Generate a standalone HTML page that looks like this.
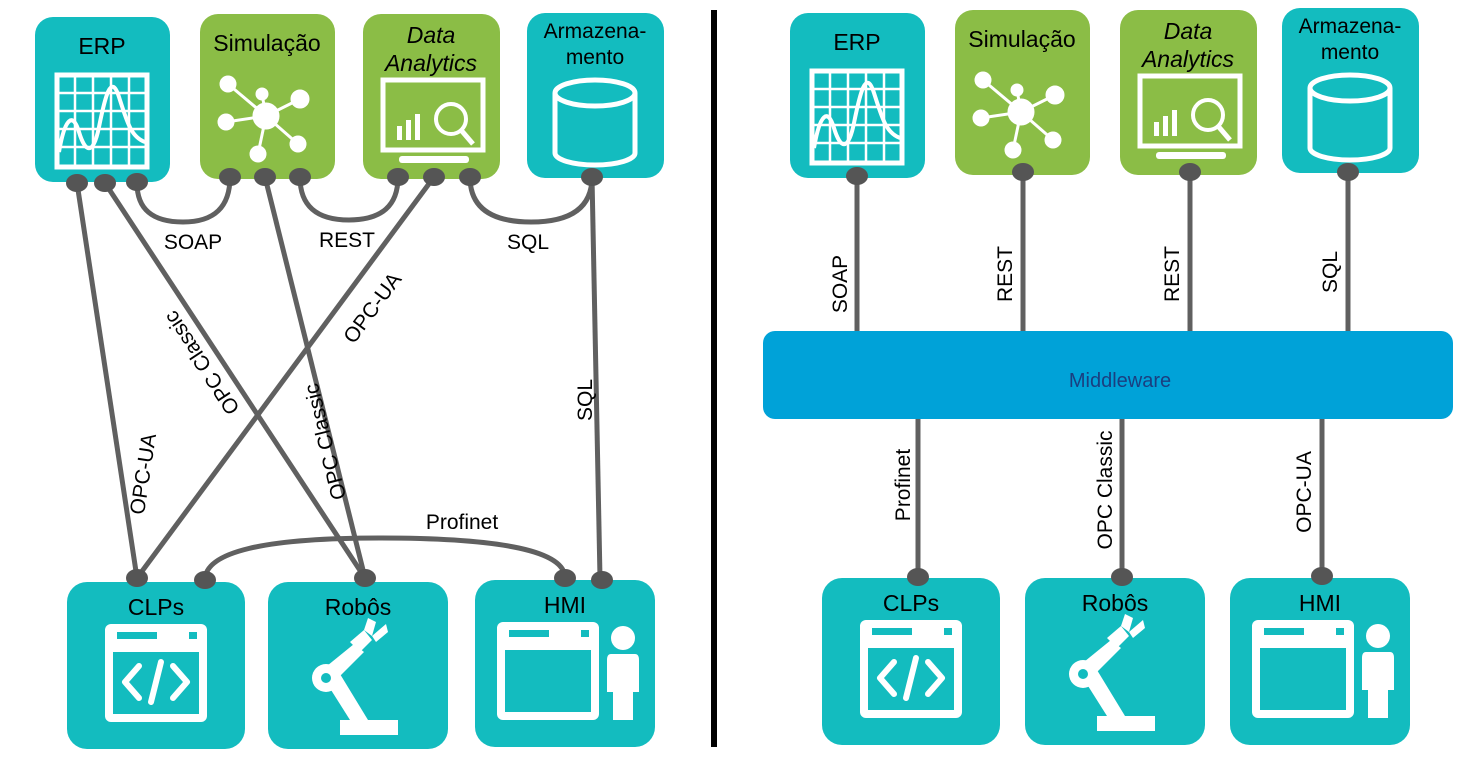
<!DOCTYPE html>
<html><head><meta charset="utf-8"><style>
html,body{margin:0;padding:0;background:#fff;}
svg{display:block;}
text{font-family:"Liberation Sans",Arial,sans-serif;}
</style></head><body>
<svg width="1481" height="763" viewBox="0 0 1481 763" xmlns="http://www.w3.org/2000/svg">
<defs>
<g id="erp">
  <rect x="0" y="0" width="135" height="165" rx="18" fill="#13bcbf"/>
  <text x="67" y="37" font-size="23" text-anchor="middle" fill="#000">ERP</text>
  <rect x="22" y="58" width="90" height="92" fill="none" stroke="#fff" stroke-width="5"/>
  <g stroke="#fff" stroke-width="2.5">
    <line x1="22" y1="76" x2="112" y2="76"/><line x1="22" y1="94" x2="112" y2="94"/>
    <line x1="22" y1="112" x2="112" y2="112"/><line x1="22" y1="130" x2="112" y2="130"/>
    <line x1="40" y1="58" x2="40" y2="150"/><line x1="58" y1="58" x2="58" y2="150"/>
    <line x1="76" y1="58" x2="76" y2="150"/><line x1="94" y1="58" x2="94" y2="150"/>
  </g>
  <path d="M24 135 C30 100,38 95,44 115 S58 140,64 110 S76 55,84 80 S96 120,110 125" fill="none" stroke="#fff" stroke-width="4"/>
</g>
<g id="sim">
  <rect x="0" y="0" width="135" height="165" rx="18" fill="#8bbd46"/>
  <text x="67" y="37" font-size="23" text-anchor="middle" fill="#000">Simulação</text>
  <g stroke="#fff" stroke-width="3" fill="#fff">
    <line x1="66" y1="102" x2="28" y2="70"/><line x1="66" y1="102" x2="62" y2="80"/>
    <line x1="66" y1="102" x2="100" y2="85"/><line x1="66" y1="102" x2="26" y2="108"/>
    <line x1="66" y1="102" x2="98" y2="130"/><line x1="66" y1="102" x2="58" y2="140"/>
    <circle cx="66" cy="102" r="12"/><circle cx="28" cy="70" r="7"/><circle cx="62" cy="80" r="5"/>
    <circle cx="100" cy="85" r="8"/><circle cx="26" cy="108" r="7"/><circle cx="98" cy="130" r="7"/><circle cx="58" cy="140" r="7"/>
  </g>
</g>
<g id="da">
  <rect x="0" y="0" width="137" height="165" rx="18" fill="#8bbd46"/>
  <text x="68" y="29" font-size="23" text-anchor="middle" font-style="italic" fill="#000">Data</text>
  <text x="68" y="57" font-size="23" text-anchor="middle" font-style="italic" fill="#000">Analytics</text>
  <rect x="20" y="66" width="100" height="70" fill="none" stroke="#fff" stroke-width="5"/>
  <g fill="#fff"><rect x="34" y="112" width="5" height="14"/><rect x="43" y="106" width="5" height="20"/><rect x="52" y="100" width="5" height="26"/></g>
  <circle cx="88" cy="105" r="15" fill="none" stroke="#fff" stroke-width="4"/>
  <line x1="98" y1="116" x2="110" y2="130" stroke="#fff" stroke-width="5"/>
  <rect x="36" y="142" width="70" height="7" rx="3" fill="#fff"/>
</g>
<g id="arm">
  <rect x="0" y="0" width="137" height="165" rx="18" fill="#13bcbf"/>
  <text x="68" y="25" font-size="21" text-anchor="middle" fill="#000">Armazena-</text>
  <text x="68" y="51" font-size="21" text-anchor="middle" fill="#000">mento</text>
  <path d="M28 80 V140 A40 12 0 0 0 108 140 V80" fill="none" stroke="#fff" stroke-width="5"/>
  <ellipse cx="68" cy="80" rx="40" ry="13" fill="none" stroke="#fff" stroke-width="5"/>
</g>
<g id="clp">
  <rect x="0" y="0" width="178" height="167" rx="20" fill="#13bcbf"/>
  <text x="89" y="33" font-size="23" text-anchor="middle" fill="#000">CLPs</text>
  <rect x="38" y="42" width="102" height="98" rx="6" fill="#fff"/>
  <rect x="46" y="70" width="86" height="62" fill="#13bcbf"/>
  <rect x="50" y="50" width="40" height="7" fill="#13bcbf"/><rect x="122" y="50" width="8" height="7" fill="#13bcbf"/>
  <g stroke="#fff" stroke-width="6" fill="none" stroke-linecap="round" stroke-linejoin="round">
    <polyline points="72,84 58,100 72,116"/><polyline points="106,84 120,100 106,116"/><line x1="94" y1="80" x2="84" y2="120"/>
  </g>
</g>
<g id="rob">
  <rect x="0" y="0" width="180" height="167" rx="20" fill="#13bcbf"/>
  <text x="90" y="33" font-size="23" text-anchor="middle" fill="#000">Robôs</text>
  <g fill="#fff">
    <rect x="72" y="138" width="58" height="15"/>
    <polygon points="82,138 58,100 72,92 100,138"/>
    <circle cx="58" cy="96" r="14"/>
    <polygon points="54,88 86,62 96,70 66,100"/>
    <polygon points="82,60 96,48 104,58 92,70"/>
    <polygon points="96,48 100,36 108,40 104,54"/>
    <polygon points="104,54 118,42 120,50 108,60"/>
  </g>
  <circle cx="58" cy="96" r="5" fill="#13bcbf"/>
</g>
<g id="hmi">
  <rect x="0" y="0" width="180" height="167" rx="20" fill="#13bcbf"/>
  <text x="90" y="33" font-size="23" text-anchor="middle" fill="#000">HMI</text>
  <rect x="22" y="42" width="102" height="98" rx="6" fill="#fff"/>
  <rect x="30" y="70" width="86" height="62" fill="#13bcbf"/>
  <rect x="34" y="50" width="40" height="7" fill="#13bcbf"/><rect x="106" y="50" width="8" height="7" fill="#13bcbf"/>
  <circle cx="148" cy="58" r="12" fill="#fff"/>
  <path d="M136 74 H160 Q164 74 164 80 V112 H158 V140 H138 V112 H132 V80 Q132 74 136 74Z" fill="#fff"/>
</g>
</defs>

<!-- LEFT -->
<use href="#erp" x="35" y="17"/>
<use href="#sim" x="200" y="14"/>
<use href="#da" x="363" y="14"/>
<use href="#arm" x="527" y="13"/>
<use href="#clp" x="67" y="582"/>
<use href="#rob" x="268" y="582"/>
<use href="#hmi" x="475" y="580"/>

<g stroke="#606060" stroke-width="5" fill="none">
  <line x1="77" y1="183" x2="137" y2="578"/>
  <line x1="105" y1="183" x2="365" y2="578"/>
  <line x1="265" y1="177" x2="365" y2="578"/>
  <line x1="434" y1="177" x2="137" y2="578"/>
  <line x1="592" y1="177" x2="600" y2="578"/>
  <path d="M137 183 Q137 222 183 222 Q230 222 230 177"/>
  <path d="M300 177 Q300 220 349 220 Q398 220 398 177"/>
  <path d="M470 177 Q470 222 531 222 Q592 222 592 177"/>
  <path d="M205 580 Q205 538 380 538 Q565 538 565 578"/>
</g>
<g fill="#555">
  <ellipse cx="77" cy="183" rx="11" ry="9"/><ellipse cx="105" cy="183" rx="11" ry="9"/><ellipse cx="137" cy="182" rx="11" ry="9"/>
  <ellipse cx="230" cy="177" rx="11" ry="9"/><ellipse cx="265" cy="177" rx="11" ry="9"/><ellipse cx="300" cy="177" rx="11" ry="9"/>
  <ellipse cx="398" cy="177" rx="11" ry="9"/><ellipse cx="434" cy="177" rx="11" ry="9"/><ellipse cx="470" cy="177" rx="11" ry="9"/>
  <ellipse cx="592" cy="177" rx="11" ry="9"/>
  <ellipse cx="137" cy="578" rx="11" ry="9"/><ellipse cx="205" cy="580" rx="11" ry="9"/><ellipse cx="365" cy="578" rx="11" ry="9"/>
  <ellipse cx="565" cy="578" rx="11" ry="9"/><ellipse cx="602" cy="580" rx="11" ry="9"/>
</g>
<g font-size="21" fill="#000">
  <text x="193" y="249" text-anchor="middle">SOAP</text>
  <text x="347" y="247" text-anchor="middle">REST</text>
  <text x="528" y="249" text-anchor="middle">SQL</text>
  <text x="462" y="529" text-anchor="middle">Profinet</text>
  <text transform="translate(150,475) rotate(-81.4)" text-anchor="middle">OPC-UA</text>
  <text transform="translate(203,362) rotate(236.6)" text-anchor="middle" dominant-baseline="middle">OPC Classic</text>
  <text transform="translate(332,440) rotate(-104)" text-anchor="middle">OPC Classic</text>
  <text transform="translate(378,312) rotate(-53.5)" text-anchor="middle">OPC-UA</text>
  <text transform="translate(592,400) rotate(-90)" text-anchor="middle">SQL</text>
</g>

<!-- divider -->
<rect x="711" y="10" width="6" height="737" fill="#000"/>

<!-- RIGHT -->
<use href="#erp" x="790" y="13"/>
<use href="#sim" x="955" y="10"/>
<use href="#da" x="1120" y="10"/>
<use href="#arm" x="1282" y="8"/>
<use href="#clp" x="822" y="578"/>
<use href="#rob" x="1025" y="578"/>
<use href="#hmi" x="1230" y="578"/>

<g stroke="#606060" stroke-width="5">
  <line x1="857" y1="176" x2="857" y2="335"/>
  <line x1="1023" y1="172" x2="1023" y2="335"/>
  <line x1="1190" y1="172" x2="1190" y2="335"/>
  <line x1="1348" y1="172" x2="1348" y2="335"/>
  <line x1="918" y1="415" x2="918" y2="577"/>
  <line x1="1122" y1="415" x2="1122" y2="577"/>
  <line x1="1322" y1="415" x2="1322" y2="577"/>
</g>
<rect x="763" y="331" width="690" height="88" rx="12" fill="#00a2d8"/>
<text x="1120" y="387" font-size="20" text-anchor="middle" fill="#1a3f80">Middleware</text>
<g fill="#555">
  <ellipse cx="857" cy="176" rx="11" ry="9"/><ellipse cx="1023" cy="172" rx="11" ry="9"/>
  <ellipse cx="1190" cy="172" rx="11" ry="9"/><ellipse cx="1348" cy="172" rx="11" ry="9"/>
  <ellipse cx="918" cy="577" rx="11" ry="9"/><ellipse cx="1122" cy="577" rx="11" ry="9"/><ellipse cx="1322" cy="576" rx="11" ry="9"/>
</g>
<g font-size="21" fill="#000">
  <text transform="translate(847,284) rotate(-90)" text-anchor="middle">SOAP</text>
  <text transform="translate(1012,274) rotate(-90)" text-anchor="middle">REST</text>
  <text transform="translate(1179,274) rotate(-90)" text-anchor="middle">REST</text>
  <text transform="translate(1337,272) rotate(-90)" text-anchor="middle">SQL</text>
  <text transform="translate(910,485) rotate(-90)" text-anchor="middle">Profinet</text>
  <text transform="translate(1112,490) rotate(-90)" text-anchor="middle">OPC Classic</text>
  <text transform="translate(1311,492) rotate(-90)" text-anchor="middle">OPC-UA</text>
</g>
</svg>
</body></html>
